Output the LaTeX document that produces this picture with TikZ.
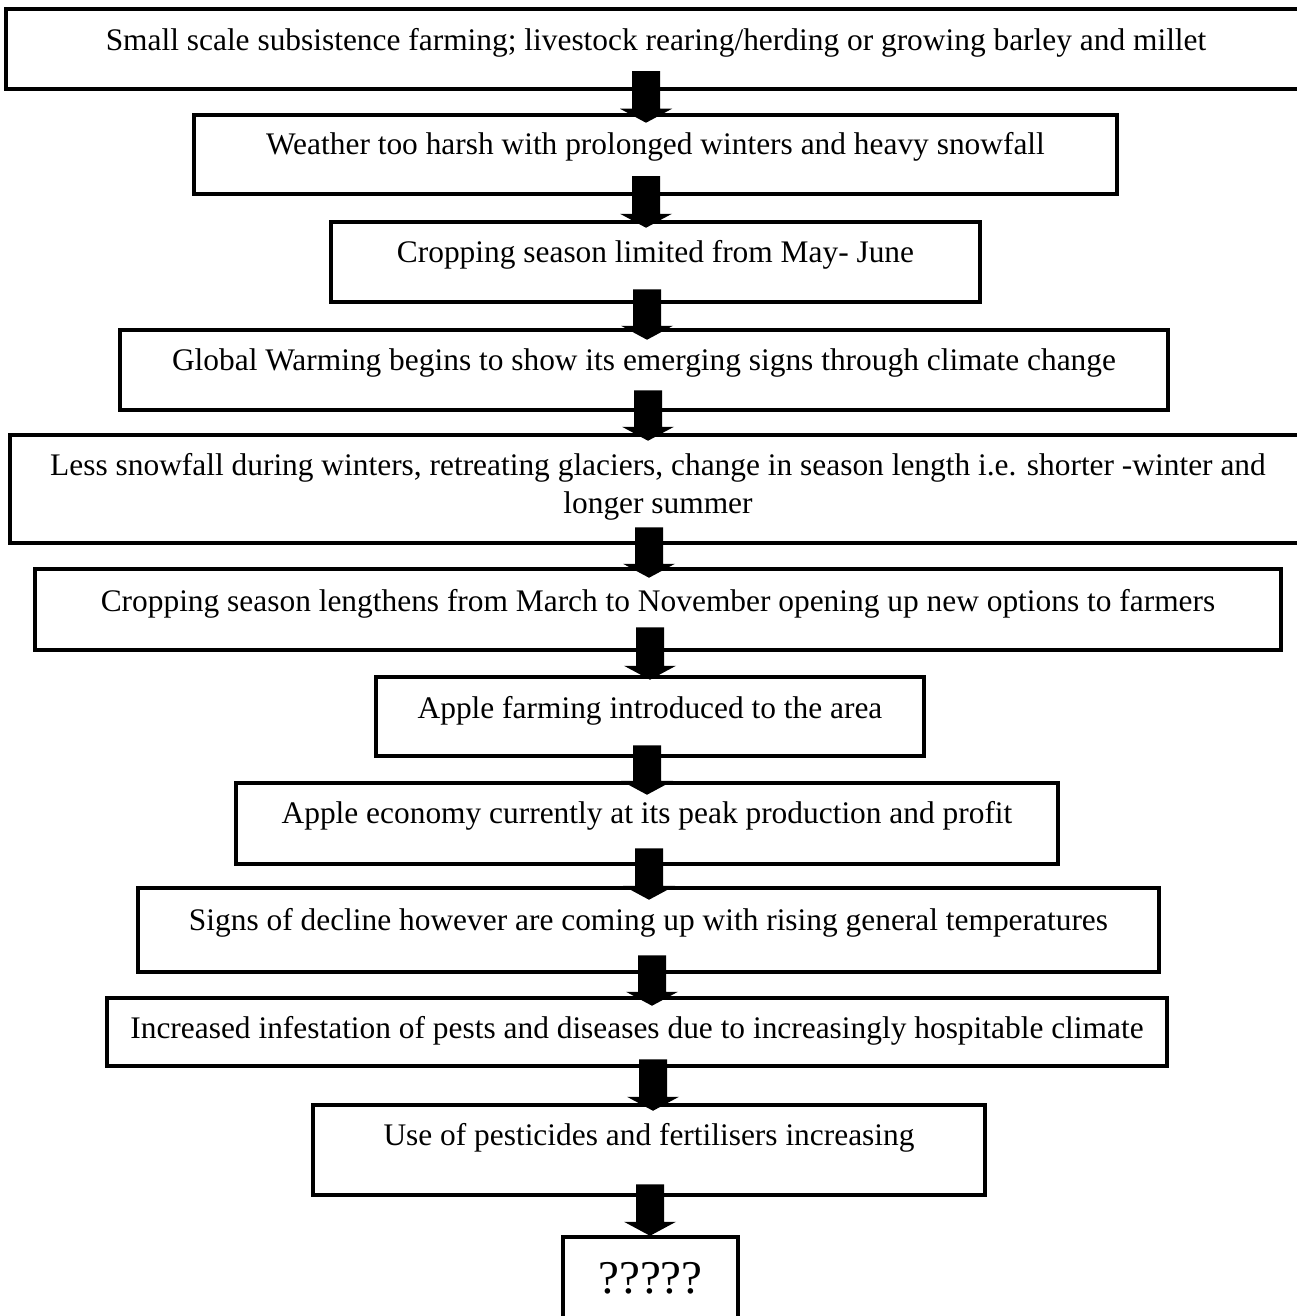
\documentclass[tikz,border=0pt]{standalone}
\usepackage{fontspec}
\setmainfont{Liberation Serif}
\usetikzlibrary{calc}
\begin{document}
\begin{tikzpicture}[x=1pt,y=-1pt,
  box/.style={draw=black, line width=4.5pt, inner xsep=0pt, inner ysep=0pt,
    text height=40pt, font=\fontsize{31.4}{38}\selectfont},
  blk/.style={fill=black, to path={let \p1=(\tikztostart), \p2=(\tikztotarget) in
    (\x1-14pt,\y1) -- (\x1+14pt,\y1) -- (\x1+14pt,\y2+14pt) -- (\x1+26pt,\y2+14pt)
    -- (\x1,\y2) -- (\x1-26pt,\y2+14pt) -- (\x1-14pt,\y2+14pt) -- cycle}}]
\fill[white] (0,0) rectangle (1297,1316);
\useasboundingbox (0,0) rectangle (1297,1316);

\node[box, minimum width=1300pt, minimum height=80pt, text height=42pt, text depth=38pt] (b1) at (656,49)
  {Small scale subsistence farming; livestock rearing/herding or growing barley and millet};
\node[box, minimum width=923pt, minimum height=79pt, text depth=39pt] (b2) at (655.5,154.5)
  {Weather too harsh with prolonged winters and heavy snowfall};
\node[box, minimum width=649pt, minimum height=80pt, text depth=40pt] (b3) at (655.5,262)
  {Cropping season limited from May- June};
\node[box, minimum width=1048pt, minimum height=80pt, text depth=40pt] (b4) at (644,370)
  {Global Warming begins to show its emerging signs through climate change};
\node[box, minimum width=1296pt, minimum height=108pt, text depth=68pt] (b5) at (658,489)
  {\begin{tabular}[t]{@{}c@{}}Less snowfall during winters, retreating glaciers, change in season length i.e. shorter -winter and\\longer summer\end{tabular}};
\node[box, minimum width=1246pt, minimum height=81pt, text height=42pt, text depth=39pt] (b6) at (658,609.5)
  {Cropping season lengthens from March to November opening up new options to farmers};
\node[box, minimum width=548pt, minimum height=79pt, text height=41pt, text depth=38pt] (b7) at (650,716.5)
  {Apple farming introduced to the area};
\node[box, minimum width=822pt, minimum height=81pt, text depth=41pt] (b8) at (647,823.5)
  {Apple economy currently at its peak production and profit};
\node[box, minimum width=1021pt, minimum height=84pt, text height=42pt, text depth=42pt] (b9) at (648.5,930)
  {Signs of decline however are coming up with rising general temperatures};
\node[box, minimum width=1060pt, minimum height=68pt, text depth=28pt] (b10) at (637,1032)
  {Increased infestation of pests and diseases due to increasingly hospitable climate};
\node[box, minimum width=175pt, minimum height=93pt, text height=56pt, text depth=37pt,
  font=\fontsize{47}{56}\selectfont] (b12) at (650.5,1283.5) {?????};
\node[box, minimum width=672pt, minimum height=90pt, text depth=50pt] (b11) at (649,1150)
  {Use of pesticides and fertilisers increasing};

\fill[blk] ($(b1.south)+(-10,-20)$) to ($(b2.north)+(0,10)$);
\fill[blk] ($(b2.south)+(-9.5,-20)$) to ($(b3.north)+(0,8)$);
\fill[blk] ($(b3.south)+(-8.5,-15)$) to ($(b4.north)+(0,12)$);
\fill[blk] ($(b4.south)+(4,-22)$) to ($(b5.north)+(0,8)$);
\fill[blk] ($(b5.south)+(-9,-18)$) to ($(b6.north)+(0,11)$);
\fill[blk] ($(b6.south)+(-8,-25)$) to ($(b7.north)+(0,5)$);
\fill[blk] ($(b7.south)+(-3,-13)$) to ($(b8.north)+(0,14)$);
\fill[blk] ($(b8.south)+(2,-18)$) to ($(b9.north)+(0,14)$);
\fill[blk] ($(b9.south)+(3.5,-19)$) to ($(b10.north)+(0,10)$);
\fill[blk] ($(b10.south)+(16,-9)$) to ($(b11.north)+(0,8)$);
\fill[blk] ($(b11.south)+(1,-13)$) to ($(b12.north)+(0,1)$);
\end{tikzpicture}
\end{document}
